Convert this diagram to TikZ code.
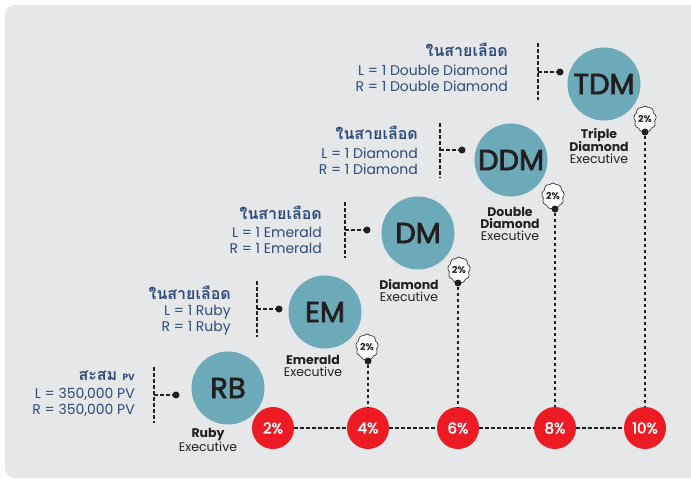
\documentclass[tikz,border=0pt]{standalone}
\usepackage{fontspec}
\setmainfont{Poppins}
\newfontfamily\thaifont[Script=Thai]{Loma}
\newfontfamily\popmed[FakeBold=2.5]{Poppins}
\usetikzlibrary{shapes.symbols}
\definecolor{panel}{HTML}{E6E7E9}
\definecolor{myteal}{HTML}{6DAAB9}
\definecolor{myred}{HTML}{ED1C24}
\definecolor{navy}{HTML}{2D4B7B}
\definecolor{ink}{HTML}{231F20}
\tikzset{
  rank/.style={circle, fill=myteal, minimum size=73pt, inner sep=0pt, text=ink, font=\popmed\fontsize{29}{29}\selectfont},
  pct/.style={circle, fill=myred, minimum size=42pt, inner sep=0pt, text=white, font=\popmed\fontsize{15}{15}\selectfont},
  dotn/.style={circle, fill=ink, minimum size=7pt, inner sep=0pt},
  dline/.style={draw=ink, line width=1.2pt, dash pattern=on 3.5pt off 2.5pt},
  badge/.style={cloud, cloud puffs=9, cloud puff arc=110, aspect=0.8, draw=ink, fill=white, line width=0.6pt, minimum width=19pt, minimum height=23pt, inner sep=0pt, font=\bfseries\fontsize{9.5}{9.5}\selectfont, text=ink},
  req/.style={anchor=east, inner sep=0pt, text=navy, font=\fontsize{14}{14}\selectfont},
  reqt/.style={anchor=east, inner sep=0pt, text=navy, font=\thaifont\bfseries\fontsize{16}{16}\selectfont},
  ttl/.style={inner sep=0pt, text=ink, font=\fontsize{12.5}{12.5}\selectfont},
  ttlb/.style={inner sep=0pt, text=ink, font=\bfseries\fontsize{12.5}{12.5}\selectfont}
}
\begin{document}
\begin{tikzpicture}[x=1pt,y=-1pt]
\useasboundingbox (0,0) rectangle (691,482);
\begin{scope}
\clip (0,0) rectangle (691,482);
\fill[panel, rounded corners=10pt] (5,5) rectangle (720,478);
\end{scope}

% rank circles
\node[rank] (rb)  at (228,388) {RB};
\node[rank] (em)  at (325,312) {EM};
\node[rank] (dm)  at (418,233) {DM};
\node[rank] (ddm) at (511,160) {DDM};
\node[rank] (tdm) at (604,84)  {TDM};

% badges
\node[badge] (bem)  at (367,347) {2\%};
\node[badge] (bdm)  at (459,270) {2\%};
\node[badge] (bddm) at (553,196) {2\%};
\node[badge] (btdm) at (645,119) {2\%};

% percentage circles
\node[pct] (p2)  at (273,428) {2\%};
\node[pct] (p4)  at (368,428) {4\%};
\node[pct] (p6)  at (458,428) {6\%};
\node[pct] (p8)  at (555,428) {8\%};
\node[pct] (p10) at (645,428) {10\%};

% dots under badges
\node[dotn] (dem)  at (368,361) {};
\node[dotn] (ddmd) at (458,283) {};
\node[dotn] (dddm) at (555,209) {};
\node[dotn] (dtdm) at (645,132) {};

% connectors
\draw[dline] (p2) -- (p4);
\draw[dline] (p4) -- (p6);
\draw[dline] (p6) -- (p8);
\draw[dline] (p8) -- (p10);
\draw[dline] (dem) -- (p4);
\draw[dline] (ddmd) -- (p6);
\draw[dline] (dddm) -- (p8);
\draw[dline] (dtdm) -- (p10);

% brackets
\coordinate (rbt) at (154,367); \coordinate (rbb) at (154,423); \coordinate (rbm) at (154,395);
\node[dotn] (rbd) at (176,395) {};
\draw[dline] (rbt) -- (rbb); \draw[dline] (rbm) -- (rbd);

\coordinate (emt) at (257,281); \coordinate (emb) at (257,337); \coordinate (emm) at (257,309);
\node[dotn] (emd) at (279,309) {};
\draw[dline] (emt) -- (emb); \draw[dline] (emm) -- (emd);

\coordinate (dmt) at (345,202); \coordinate (dmb) at (345,258); \coordinate (dmm) at (345,230);
\node[dotn] (dmd) at (367,230) {};
\draw[dline] (dmt) -- (dmb); \draw[dline] (dmm) -- (dmd);

\coordinate (ddt) at (440,123); \coordinate (ddb) at (440,178); \coordinate (ddmm) at (440,150);
\node[dotn] (ddd) at (462,150) {};
\draw[dline] (ddt) -- (ddb); \draw[dline] (ddmm) -- (ddd);

\coordinate (tdt) at (538,43); \coordinate (tdb) at (538,100); \coordinate (tdmm) at (538,72);
\node[dotn] (tdd) at (560,72) {};
\draw[dline] (tdt) -- (tdb); \draw[dline] (tdmm) -- (tdd);

% requirement texts
\node[reqt] (tq1) at (508,50) {ในสายเลือด};
\node[req]  (tq2) at (508,70) {L = 1 Double Diamond};
\node[req]  (tq3) at (508,86) {R = 1 Double Diamond};

\node[reqt] (dq1) at (418,133) {ในสายเลือด};
\node[req]  (dq2) at (418,153) {L = 1 Diamond};
\node[req]  (dq3) at (418,169) {R = 1 Diamond};

\node[reqt] (mq1) at (322,213) {ในสายเลือด};
\node[req]  (mq2) at (322,232) {L = 1 Emerald};
\node[req]  (mq3) at (322,248) {R = 1 Emerald};

\node[reqt] (eq1) at (231,293) {ในสายเลือด};
\node[req]  (eq2) at (231,312) {L = 1 Ruby};
\node[req]  (eq3) at (231,328) {R = 1 Ruby};

\node[reqt] (rq1) at (135,376) {สะสม {\rmfamily\bfseries\fontsize{9}{9}\selectfont PV}};
\node[req]  (rq2) at (135,394) {L = 350,000 PV};
\node[req]  (rq3) at (135,410) {R = 350,000 PV};

% titles
\node[ttlb] (trb1) at (208,435) {Ruby};
\node[ttl]  (trb2) at (208,447) {Executive};
\node[ttlb] (tem1) at (313,360) {Emerald};
\node[ttl]  (tem2) at (313,372) {Executive};
\node[ttlb] (tdm1) at (409,285) {Diamond};
\node[ttl]  (tdm2) at (409,297) {Executive};
\node[ttlb] (tdd1) at (510,212) {Double};
\node[ttlb] (tdd2) at (510,224) {Diamond};
\node[ttl]  (tdd3) at (510,236) {Executive};
\node[ttlb] (ttd1) at (599,135) {Triple};
\node[ttlb] (ttd2) at (599,147) {Diamond};
\node[ttl]  (ttd3) at (599,159) {Executive};
\end{tikzpicture}
\end{document}
